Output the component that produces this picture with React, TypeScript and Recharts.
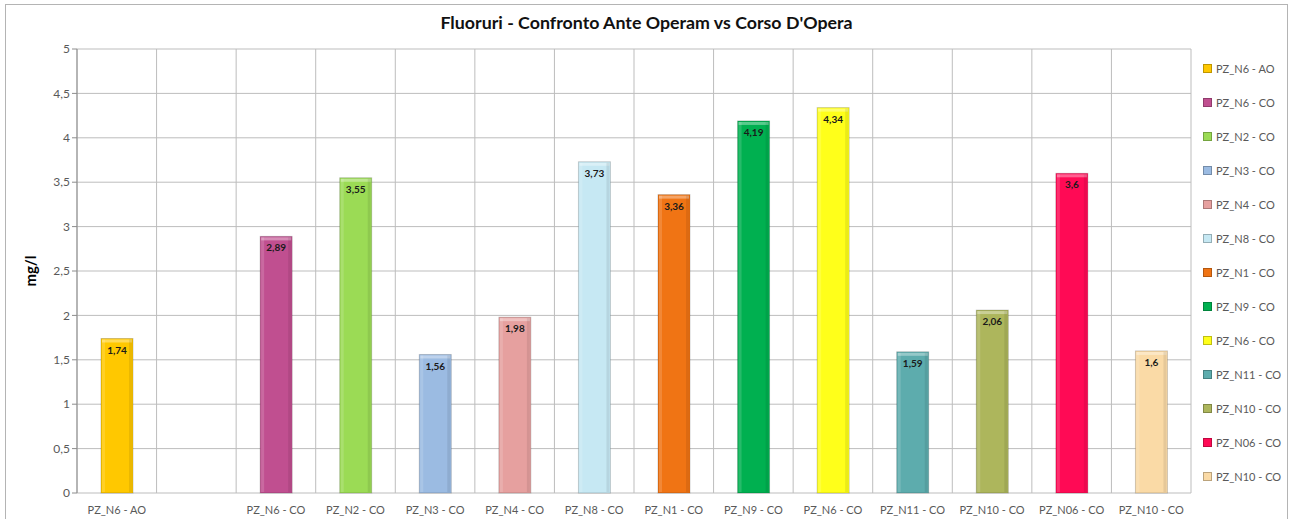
import React from 'react';
import { BarChart, Bar, XAxis, YAxis, CartesianGrid, Cell, LabelList } from 'recharts';

// --- Data ---
const categories = [
  'PZ_N6 - AO', '', 'PZ_N6 - CO', 'PZ_N2 - CO', 'PZ_N3 - CO', 'PZ_N4 - CO', 'PZ_N8 - CO',
  'PZ_N1 - CO', 'PZ_N9 - CO', 'PZ_N6 - CO', 'PZ_N11 - CO', 'PZ_N10 - CO', 'PZ_N06 - CO', 'PZ_N10 - CO',
];
const values: (number | null)[] = [1.74, null, 2.89, 3.55, 1.56, 1.98, 3.73, 3.36, 4.19, 4.34, 1.59, 2.06, 3.6, 1.6];
const colors = [
  '#FFC800', '#ffffff', '#C04F90', '#9BDB55', '#9BBBE2', '#E6A09F', '#C6E8F3',
  '#F07414', '#00B050', '#FFFF1A', '#5DACAD', '#ADB65C', '#FF0A55', '#FADAA6',
];
const yTicks = [0, 0.5, 1, 1.5, 2, 2.5, 3, 3.5, 4, 4.5, 5];
const slotTicks = [0, 1, 2, 3, 4, 5, 6, 7, 8, 9, 10, 11, 12, 13, 14];

const chartData = categories.map((name, i) => ({ name, value: values[i], color: colors[i] }));
const legendItems = chartData.filter((d) => d.value !== null);

const FONT = 'Lato, "Open Sans", sans-serif';
const comma = (v: any) => (v === null || v === undefined || v === '' ? '' : String(v).replace('.', ','));

// bar with a little bevel on top, like the excel 3d style
const BevelBar = (props: any) => {
  const { x, y, width, height, fill } = props;
  if (!height || height <= 0) return null;
  return (
    <g>
      <rect x={x} y={y} width={width} height={height} fill={fill} stroke="rgba(0,0,0,0.18)" strokeWidth={1} />
      <rect x={x + 1} y={y + 1} width={width - 2} height={3} fill="#ffffff" fillOpacity={0.35} />
      <rect x={x + 1} y={y + 1} width={3} height={height - 2} fill="#ffffff" fillOpacity={0.15} />
      <rect x={x + width - 4} y={y + 1} width={3} height={height - 2} fill="#000000" fillOpacity={0.08} />
    </g>
  );
};

const YLabel = (props: any) => {
  const { viewBox } = props;
  const cx = viewBox.x + 24;
  const cy = viewBox.y + viewBox.height / 2;
  return (
    <text
      x={cx}
      y={cy}
      transform={`rotate(-90, ${cx}, ${cy})`}
      textAnchor="middle"
      dominantBaseline="central"
      fontFamily={FONT}
      fontSize={15}
      fontWeight={700}
      fill="#000"
    >
      mg/l
    </text>
  );
};

// vertical grid lines sit on the slot boundaries, not on the category centres
const slotLines = ({ offset }: any) => slotTicks.map((i) => offset.left + (i * offset.width) / slotTicks[slotTicks.length - 1]);

export default function App() {
  return (
    <div
      style={{
        position: 'absolute',
        left: 5,
        top: 4,
        width: 1283,
        height: 515,
        border: '1px solid #b4b4b4',
        borderBottom: 'none',
        boxSizing: 'border-box',
        background: '#fff',
        fontFamily: FONT,
      }}
    >
      <div
        style={{
          position: 'absolute',
          left: 0,
          right: 0,
          top: 6,
          textAlign: 'center',
          fontSize: 17.8,
          fontWeight: 700,
          color: '#111',
        }}
      >
        Fluoruri - Confronto Ante Operam vs Corso D'Opera
      </div>

      <BarChart
        width={1281}
        height={514}
        data={chartData}
        margin={{ top: 44, right: 96, bottom: 0, left: 0 }}
        style={{ position: 'absolute', left: 0, top: 0 }}
      >
        <CartesianGrid stroke="#bdbdbd" verticalCoordinatesGenerator={slotLines} />
        <XAxis
          xAxisId="slot"
          type="number"
          domain={[0, 14]}
          ticks={slotTicks}
          tickFormatter={() => ''}
          height={0}
          stroke="#8c8c8c"
          tickSize={5}
          allowDataOverflow
        />
        <XAxis
          xAxisId="cat"
          dataKey="name"
          interval={0}
          height={26}
          axisLine={false}
          tickLine={false}
          tick={{ fontSize: 11, fill: '#595959', fontFamily: FONT }}
          dy={5}
        />
        <YAxis
          width={71}
          domain={[0, 5]}
          ticks={yTicks}
          interval={0}
          tickFormatter={comma}
          stroke="#8c8c8c"
          tickSize={5}
          tick={{ fontSize: 12, fill: '#595959', fontFamily: FONT }}
          label={<YLabel />}
        />
        <Bar xAxisId="cat" dataKey="value" barSize={32} shape={<BevelBar />} isAnimationActive={false}>
          {chartData.map((d, i) => (
            <Cell key={`c-${i}`} fill={d.color} />
          ))}
          <LabelList
            dataKey="value"
            position="insideTop"
            offset={8}
            formatter={comma}
            style={{ fontSize: 10, fontWeight: 700, fill: '#1a1a1a', fontFamily: FONT }}
          />
        </Bar>
      </BarChart>

      {/* legend */}
      <div style={{ position: 'absolute', left: 1197, top: 46 }}>
        {legendItems.map((d, i) => (
          <div key={`l-${i}`} style={{ display: 'flex', alignItems: 'center', height: 34.08 }}>
            <span
              style={{
                display: 'inline-block',
                width: 7,
                height: 7,
                background: d.color,
                border: '1px solid rgba(0,0,0,0.25)',
                marginRight: 4,
              }}
            />
            <span style={{ fontSize: 11, color: '#595959', whiteSpace: 'nowrap' }}>{d.name}</span>
          </div>
        ))}
      </div>
    </div>
  );
}
